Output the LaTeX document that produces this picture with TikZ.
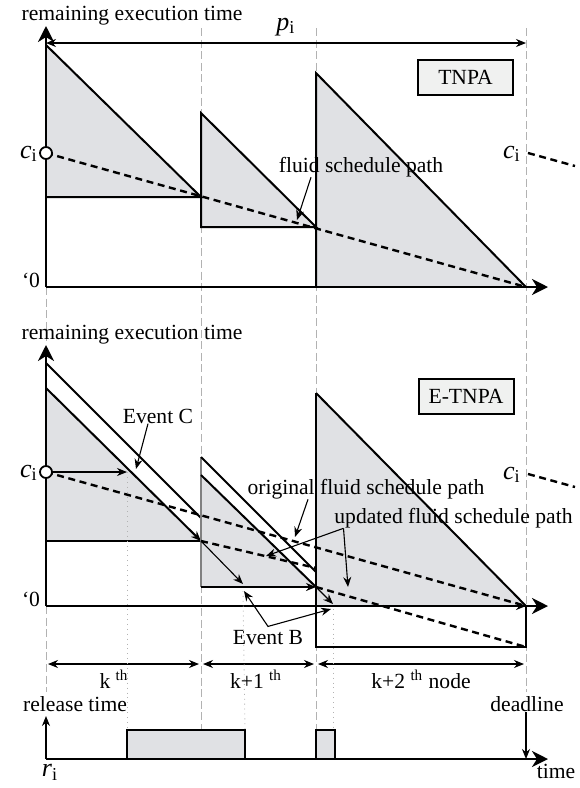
\documentclass[tikz,border=0pt]{standalone}
\usepackage{fontspec}
\setmainfont{Liberation Serif}
\usetikzlibrary{arrows.meta}
\definecolor{fuellgrau}{RGB}{224,225,228}
\definecolor{boxgrau}{RGB}{240,241,240}
\begin{document}
\begin{tikzpicture}[x=0.5pt, y=-0.5pt, font=\fontsize{10.8}{13}\selectfont,
  >={Stealth[length=5pt, width=4pt]},
  achse/.style={line width=1.3pt, -{Stealth[length=8pt, width=8pt, inset=2.5pt]}},
  kante/.style={line width=1pt},
  raster/.style={gray!60, line width=0.5pt, dash pattern=on 4pt off 1.8pt},
  hilfe/.style={gray!60, line width=0.45pt, dotted},
  fluid/.style={line width=1.2pt, dash pattern=on 3.5pt off 2.3pt},
  pfeil/.style={line width=0.55pt, ->},
  kasten/.style={draw, line width=1pt, fill=boxgrau, minimum width=47.5pt, minimum height=17.5pt, inner sep=0pt},
  txt/.style={inner sep=0pt},
  ci/.style={inner sep=0pt, font=\fontsize{13}{15}\selectfont}]
\useasboundingbox (0,0) rectangle (579,788);
\def\xa{46}   % Freigabe
\def\xb{201}  % Knotenwechsel k -> k+1
\def\xc{316}  % Knotenwechsel k+1 -> k+2
\def\xd{526}  % Deadline
\def\yo{287}  % Zeitachse oben
\def\yu{606}  % Zeitachse unten
\def\yt{759}  % Zeitstrahl
% Rasterlinien (grau gestrichelt)
\draw[raster] (\xa,\yo) -- (\xa,345);
\draw[raster] (\xa,\yu) -- (\xa,692);
\draw[raster] (\xb,28) -- (\xb,\yt);
\draw[raster] (\xc,28) -- (\xc,\yt);
\draw[raster] (\xd,28) -- (\xd,692);
% ================= oben: TNPA =================
\coordinate (O1)  at (\xa,\yo);
\coordinate (C1)  at (\xa,153);
\coordinate (T11) at (\xa,45);
\coordinate (T12) at (\xb,197);
\coordinate (T13) at (\xa,197);
\coordinate (T21) at (\xb,113);
\coordinate (T22) at (\xc,227);
\coordinate (T23) at (\xb,227);
\coordinate (T31) at (\xc,73);
\coordinate (T33) at (\xc,\yo);
\coordinate (D1)  at (\xd,\yo);
% Dreiecke
\fill[fuellgrau] (T11) -- (T12) -- (T13) -- cycle;
\fill[fuellgrau] (T21) -- (T22) -- (T23) -- cycle;
\fill[fuellgrau] (T31) -- (D1) -- (T33) -- cycle;
\draw[kante] (T11) -- (T12) -- (T13);
\draw[kante] (T21) -- (T22) -- (T23) -- cycle;
\draw[kante] (T33) -- (T31) -- (D1);
% Fluid-Pfad
\draw[fluid] (C1) -- (D1);
\draw[fluid] (528,153) -- (575,166);
% Achsen
\draw[achse] (O1) -- (\xa,26);
\draw[achse] (O1) -- (548,\yo);
\node[circle, draw, fill=white, line width=0.9pt, minimum size=6pt, inner sep=0pt] (c1) at (C1) {};
% Periode p_i
\coordinate (P1) at (\xa,43);
\coordinate (P2) at (\xd,43);
\draw[<->, line width=0.55pt] (P1) -- (P2);
% Beschriftung
\node[txt, anchor=base] (ret1) at (132,20) {remaining execution time};
\node[ci, anchor=base] (pi) at (286,30) {\textit{p}\textsubscript{i}};
\node[kasten] (tnpa) at (465.5,77.5) {TNPA};
\node[ci, anchor=base east] (c1l) at (38,158) {\textit{c}\textsubscript{i}};
\node[ci, anchor=base east] (c1r) at (521,158) {\textit{c}\textsubscript{i}};
\node[txt, anchor=base] (null1) at (31,\yo) {`0};
\node[txt] (fsp) at (361,167) {fluid schedule path};
\coordinate (F1) at (297,220);
\draw[pfeil] ([xshift=-25pt]fsp.south) -- (F1);
% ================= unten: E-TNPA =================
\coordinate (O2)  at (\xa,\yu);
\coordinate (C2)  at (\xa,472);
\coordinate (U11) at (\xa,363);
\coordinate (U12) at (\xb,518);
\coordinate (E11) at (\xa,388);
\coordinate (E12) at (\xb,541);
\coordinate (E13) at (\xa,541);
\coordinate (U21) at (\xb,457);
\coordinate (U22) at (\xc,572);
\coordinate (E21) at (\xb,475);
\coordinate (E22) at (\xc,587);
\coordinate (E23) at (\xb,587);
\coordinate (E31) at (\xc,393);
\coordinate (E33) at (\xc,\yu);
\coordinate (D2)  at (\xd,\yu);
\coordinate (R1)  at (\xc,647);
\coordinate (R2)  at (\xd,647);
\coordinate (S1)  at (\xc,568);
% Dreiecke
\fill[fuellgrau] (E11) -- (E12) -- (E13) -- cycle;
\fill[fuellgrau] (E21) -- (E22) -- (E23) -- cycle;
\fill[fuellgrau] (E31) -- (D2) -- (E33) -- cycle;
\draw[kante] (U11) -- (U12);
\draw[kante, ->] (E11) -- (E12);
\draw[kante] (E13) -- (E12);
\draw[gray, line width=0.7pt] (U21) -- (E23);
\draw[kante] (U21) -- (U22);
\draw[kante] (E21) -- (E22);
\draw[kante, ->] (E23) -- (E22);
\draw[kante] (E31) -- (D2);
\draw[kante] (E31) -- (R1) -- (R2) -- (D2);
\draw[kante, ->] (480,\yu) -- (D2);
% Fluid-Pfade: urspruenglich und aktualisiert
\draw[fluid] (C2) -- (D2);
\draw[fluid] (E12) -- (S1);
\draw[fluid] (E22) -- (R2);
\draw[fluid] (528,474) -- (575,487);
% Achsen
\draw[achse] (O2) -- (\xa,345);
\draw[achse] (O2) -- (548,\yu);
\node[circle, draw, fill=white, line width=0.9pt, minimum size=6pt, inner sep=0pt] (c2) at (C2) {};
% Ereignisse
\coordinate (K1) at (127,472);
\coordinate (K2) at (243,584);
\coordinate (K3) at (333,604);
\draw[pfeil] (c2) -- (K1);
\draw[pfeil] (E12) -- (K2);
\draw[pfeil] (E22) -- (K3);
% Beschriftung
\node[txt, anchor=base] (ret2) at (132,339) {remaining execution time};
\node[kasten] (etnpa) at (466,396.5) {E-TNPA};
\node[ci, anchor=base east] (c2l) at (38,477) {\textit{c}\textsubscript{i}};
\node[ci, anchor=base east] (c2r) at (521,479) {\textit{c}\textsubscript{i}};
\node[txt, anchor=base] (null2) at (31,\yu) {`0};
\node[txt] (evc) at (158,416) {Event C};
\coordinate (EC) at (136,469);
\draw[pfeil] ([xshift=-5pt]evc.south) -- (EC);
\node[txt] (orig) at (366,489) {original fluid schedule path};
\coordinate (OF) at (295,537);
\draw[pfeil] ([xshift=-29pt]orig.south) -- (OF);
\node[txt] (upd) at (453.5,518) {updated fluid schedule path};
\coordinate (UF1) at (266,556);
\coordinate (UF2) at (348,587);
\draw[pfeil] ([xshift=-55pt]upd.south) -- (UF1);
\draw[pfeil] ([xshift=-55pt]upd.south) -- (UF2);
\node[txt] (evb) at (268,638) {Event B};
\coordinate (EB1) at (244,591);
\coordinate (EB2) at (331,609);
\draw[pfeil, <->] (EB1) -- ([yshift=2pt]evb.north) -- (EB2);
% ================= Knotenabschnitte =================
\draw[<->, line width=0.55pt] (48,664) -- (199,664);
\draw[<->, line width=0.55pt] (203,664) -- (314,664);
\draw[<->, line width=0.55pt] (318,664) -- (524,664);
\node[txt, anchor=base] (k0) at (114,688) {k \textsuperscript{th}};
\node[txt, anchor=base] (k1) at (256,688) {k+1 \textsuperscript{th}};
\node[txt, anchor=base] (k2) at (421,688) {k+2 \textsuperscript{th} node};
% ================= Zeitstrahl =================
\coordinate (O3) at (\xa,\yt);
\coordinate (RT) at (\xa,716);
\coordinate (DL0) at (\xd,712);
\coordinate (DL) at (\xd,\yt);
\fill[fuellgrau] (127,730) rectangle (245,\yt);
\fill[fuellgrau] (\xc,730) rectangle (335,\yt);
\draw[kante] (127,\yt) -- (127,730) -- (245,730) -- (245,\yt);
\draw[kante] (\xc,\yt) -- (\xc,730) -- (335,730) -- (335,\yt);
\draw[achse] (O3) -- (548,\yt);
\draw[pfeil] (O3) -- (RT);
\draw[pfeil] (DL0) -- (DL);
% Hilfslinien (gepunktet)
\draw[hilfe] (K1) -- (127,730);
\draw[hilfe] (243,591) -- (245,730);
\draw[hilfe] (333,609) -- (333,730);
\node[txt, anchor=base] (rel) at (75,711) {release time};
\node[txt, anchor=base] (dead) at (527,711) {deadline};
\node[ci] (ri) at (50,772) {\textit{r}\textsubscript{i}};
\node[txt] (zeit) at (556,771) {time};
\end{tikzpicture}
\end{document}
